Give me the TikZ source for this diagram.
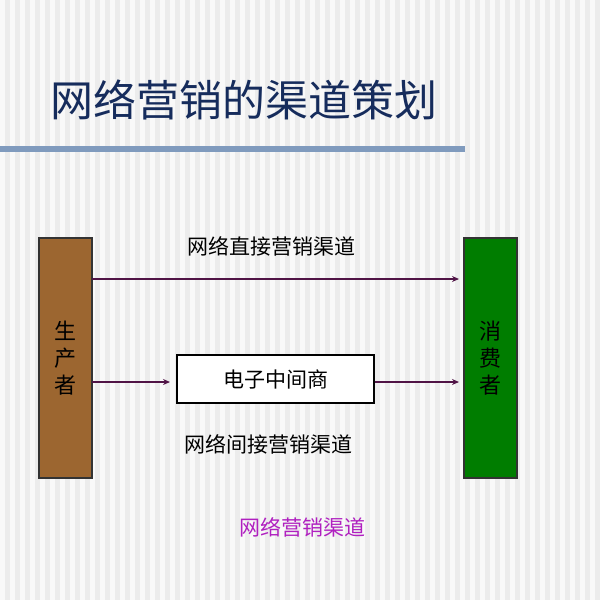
\documentclass[tikz,border=0pt]{standalone}
\usepackage{fontspec}
\newfontfamily\cjk{Noto Sans CJK SC}
\usetikzlibrary{arrows.meta}
\definecolor{titleblue}{RGB}{22,44,92}
\definecolor{rulebl}{RGB}{128,155,190}
\definecolor{brownfill}{RGB}{156,102,48}
\definecolor{greenfill}{RGB}{0,125,0}
\definecolor{arrowc}{RGB}{80,20,70}
\definecolor{magent}{RGB}{176,32,192}
\definecolor{stripe}{RGB}{236,236,236}
\definecolor{bgw}{RGB}{249,249,249}
\tikzset{
  party/.style={draw=black!80, line width=1.2pt, minimum width=53pt, minimum height=240pt, inner sep=0pt},
  midbox/.style={draw=black, line width=1.2pt, fill=white, minimum width=197pt, minimum height=48pt, inner sep=0pt, font=\cjk\fontsize{21}{24}\selectfont},
  lbl/.style={font=\cjk\fontsize{21}{24}\selectfont, inner sep=0pt},
  flow/.style={draw=arrowc, line width=1.3pt, -{Stealth[length=7pt,width=6pt]}}
}
\begin{document}
\begin{tikzpicture}[x=1pt,y=-1pt]
\useasboundingbox (0,0) rectangle (600,600);
\fill[bgw] (0,0) rectangle (600,600);
\foreach \i in {0,...,59} {\fill[stripe] (\i*10+5,0) rectangle (\i*10+10,600);}
% title
\node[font=\cjk\fontsize{43}{46}\selectfont, text=titleblue, anchor=west, inner sep=0pt] (title) at (50,100) {网络营销的渠道策划};
\fill[rulebl] (0,146) rectangle (465,152);
% parties
\node[party, fill=brownfill] (prod) at (65.5,358) {};
\node[lbl, align=center, font=\cjk\fontsize{22}{27}\selectfont] (prodt) at (prod.center) {生\\产\\者};
\node[party, fill=greenfill] (cons) at (490.5,358) {};
\node[lbl, align=center, font=\cjk\fontsize{22}{27}\selectfont] (const) at (cons.center) {消\\费\\者};
% middle box
\node[midbox] (mid) at (275.5,379) {电子中间商};
% connectors
\coordinate (p1) at (92,279);
\coordinate (c1) at (459,279);
\draw[flow] (p1) -- (c1);
\coordinate (p2) at (92,382);
\coordinate (m2) at (170,382);
\draw[flow] (p2) -- (m2);
\coordinate (m3) at (mid.east |- 0,382);
\coordinate (c3) at (459,382);
\draw[flow] (m3) -- (c3);
% labels
\node[lbl] (direct) at (271,246) {网络直接营销渠道};
\node[lbl] (indirect) at (268,444) {网络间接营销渠道};
\node[lbl, text=magent] (chan) at (302,527) {网络营销渠道};
\end{tikzpicture}
\end{document}
